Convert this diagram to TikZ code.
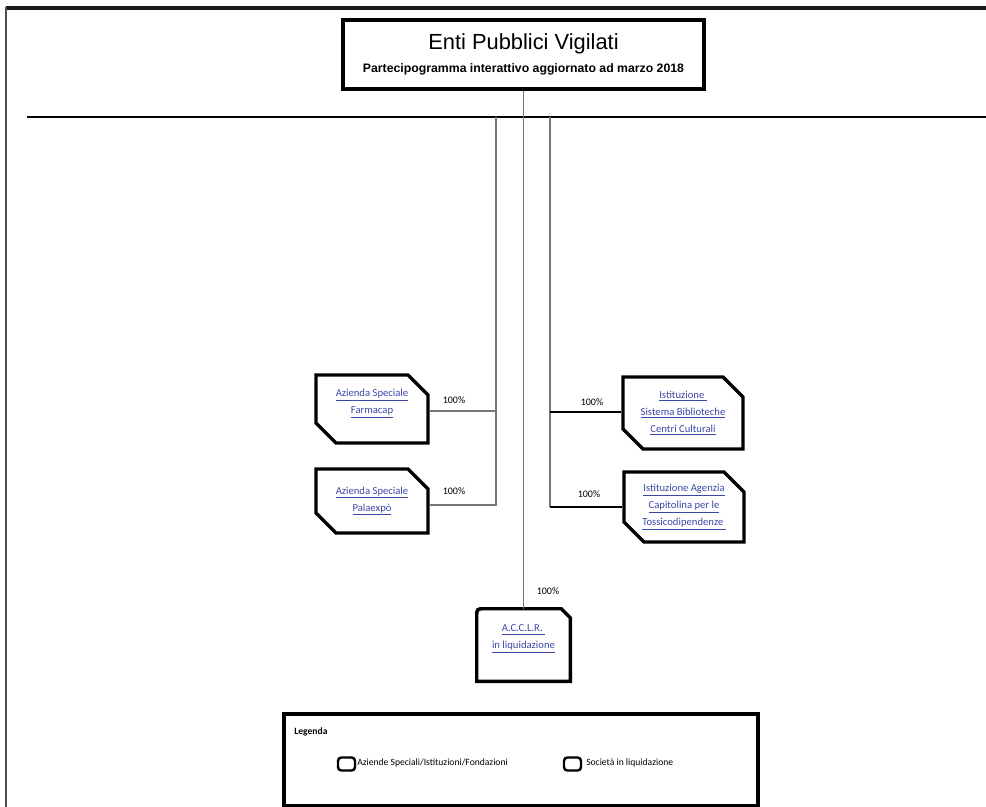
\documentclass[tikz,border=0pt]{standalone}
\usepackage{fontspec}
\setmainfont{Carlito}
\newfontfamily\arialfont{Liberation Sans}
\usetikzlibrary{shapes.misc,calc}
\definecolor{linkblue}{HTML}{3B47A6}
\definecolor{conngray}{HTML}{777777}
\tikzset{
  titlebox/.style = {rectangle, draw=black, line width=2.6pt, minimum width=270.75pt, minimum height=51.75pt,
                     align=center, font=\arialfont\fontsize{9.2}{17}\selectfont},
  entbox/.style   = {chamfered rectangle, chamfered rectangle corners={north east,south west},
                     chamfered rectangle xsep=7.5pt, chamfered rectangle ysep=7.5pt,
                     draw=black, line width=2.6pt, inner sep=0pt, align=center,
                     font=\fontsize{8}{12.75}\selectfont\color{linkblue}},
  liqbox/.style   = {rectangle, inner sep=0pt, align=center,
                     font=\fontsize{8}{12.75}\selectfont\color{linkblue}},
  boxline/.style  = {line width=2.6pt, line join=miter},
  conn/.style     = {conngray, line width=0.9pt},
  pct/.style      = {font=\fontsize{7.5}{9}\selectfont, inner sep=0pt},
  legbox/.style   = {rectangle, draw=black, line width=2.6pt, minimum width=355.5pt, minimum height=69pt},
  legicon/.style  = {rectangle, draw=black, line width=1.8pt, rounded corners=2.5pt,
                     minimum width=12.75pt, minimum height=9.75pt, inner sep=0pt},
  legtext/.style  = {font=\fontsize{7.2}{8}\selectfont, inner sep=0pt, anchor=west},
}

\begin{document}
\begin{tikzpicture}[x=0.75pt,y=-0.75pt]
\useasboundingbox (0,0) rectangle (986,807);
% page frame and rule
\draw[line width=2.4pt,black!90] (6,8) -- (986,8);
\draw[line width=1.8pt,black!70] (6,7) -- (6,807);
\draw[line width=1pt] (27,117) -- (986,117);

% title
\node[titlebox] (title) at (523.5,54.5)
  {{\fontsize{16.4}{17}\selectfont Enti Pubblici Vigilati}\\
   \bfseries Partecipogramma interattivo aggiornato ad marzo 2018};

% controlled bodies
\node[entbox, minimum width=84pt, minimum height=51pt, text depth=12pt] (farmacap) at (372,409)
  {\underline{Azienda Speciale}\\\underline{Farmacap}};
\node[entbox, minimum width=84pt, minimum height=48pt] (palaexpo) at (372,501)
  {\underline{Azienda Speciale}\\\underline{Palaexpò}};
\node[entbox, minimum width=90pt, minimum height=54pt] (biblio) at (683,413)
  {\underline{Istituzione~}\\\underline{Sistema Biblioteche}\\\underline{Centri Culturali}};
\node[entbox, minimum width=90pt, minimum height=52.5pt] (tossico) at (684,507)
  {\underline{Istituzione Agenzia}\\\underline{Capitolina per le}\\\underline{Tossicodipendenze~}};
\node[liqbox, minimum width=69.75pt, minimum height=54pt, text depth=12pt] (acclr) at (523.5,645)
  {\underline{A.C.C.L.R.~}\\\underline{in liquidazione}};
\draw[boxline] (acclr.south west) -- ($(acclr.north west)+(0,8)$)
  .. controls (acclr.north west) .. ($(acclr.north west)+(8,0)$)
  -- ($(acclr.north east)+(-9,0)$) -- ($(acclr.north east)+(0,9)$)
  -- (acclr.south east) -- cycle;

% connectors
\coordinate (lhook) at (496,117);
\coordinate (lend)  at (496,505);
\coordinate (lfar)  at (496,411);
\coordinate (rhook) at (550,117);
\coordinate (rend)  at (550,507);
\coordinate (rbib)  at (550,412);
\draw[conn] (title.south) -- (acclr.north);
\draw[conn] (lhook) -- (lend) -- (lend -| palaexpo.east);
\draw[conn] (lfar) -- (lfar -| farmacap.east);
\draw[conn] (rhook) -- (rend);
\draw[conn,black] (rend) -- (rend -| tossico.west);
\draw[conn,black] (rbib) -- (rbib -| biblio.west);

% shares
\node[pct] (pfar) at (454,400) {100\%};
\node[pct] (ppal) at (454,491) {100\%};
\node[pct] (pbib) at (592,402) {100\%};
\node[pct] (ptos) at (589,494) {100\%};
\node[pct] (pacc) at (548,591) {100\%};

% legend
\node[legbox] (legenda) at (521,760) {};
\node[legtext, font=\fontsize{7.2}{8}\selectfont\bfseries] (legtitle) at (294,732) {Legenda};
\node[legicon] (iconA) at (346.5,764) {};
\node[legtext] (textA) at (357,763) {Aziende Speciali/Istituzioni/Fondazioni};
\node[legicon] (iconB) at (572.5,764) {};
\node[legtext] (textB) at (586,763) {Società in liquidazione};
\end{tikzpicture}
\end{document}
